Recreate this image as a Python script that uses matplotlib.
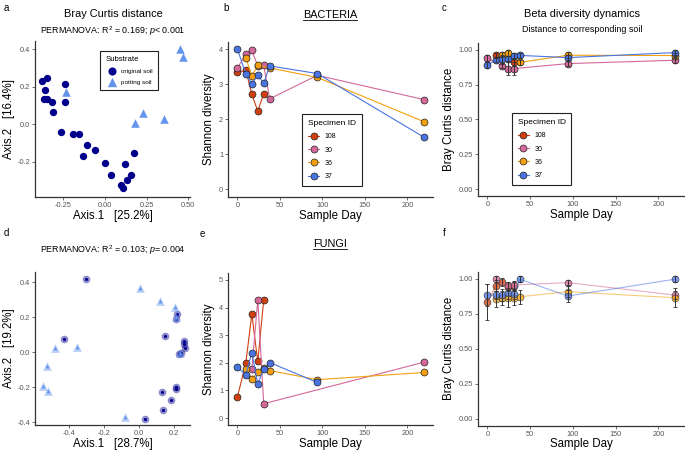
import numpy as np
import matplotlib.pyplot as plt
from matplotlib.lines import Line2D

plt.rcParams['font.family'] = ['Liberation Sans', 'DejaVu Sans']
plt.rcParams['mathtext.fontset'] = 'custom'
plt.rcParams['mathtext.rm'] = 'Liberation Sans'
plt.rcParams['mathtext.it'] = 'Liberation Sans:italic'

# ---- a: bacteria PCoA (Bray Curtis)
bac_soil_x = [-0.379, -0.347, -0.361, -0.367, -0.347, -0.315, -0.310, -0.242, -0.240,
              -0.262, -0.194, -0.159, -0.107, -0.135, -0.063, 0.000, 0.036, 0.119,
              0.175, 0.157, 0.131, 0.095, 0.105]
bac_soil_y = [0.232, 0.244, 0.180, 0.131, 0.131, 0.120, 0.065, 0.212, 0.115,
              -0.044, -0.055, -0.055, -0.112, -0.168, -0.136, -0.207, -0.271, -0.212,
              -0.152, -0.274, -0.299, -0.326, -0.343]
bac_pot_x = [-0.234, 0.450, 0.470, 0.230, 0.181, 0.353]
bac_pot_y = [0.170, 0.402, 0.358, 0.058, 0.004, 0.025]

# ---- d: fungi PCoA
fun_soil_x = [-0.303, -0.430, 0.150, 0.217, 0.213, 0.255, 0.255, 0.259, 0.236, 0.229,
              0.213, 0.210, 0.133, 0.179, 0.135, 0.032]
fun_soil_y = [0.419, 0.078, 0.093, 0.219, 0.194, 0.065, 0.046, 0.023, -0.004, -0.008,
              -0.198, -0.210, -0.225, -0.272, -0.327, -0.383]
fun_pot_x = [0.006, 0.118, 0.204, 0.213, -0.480, -0.356, -0.524, -0.550, -0.520, 0.232, -0.078]
fun_pot_y = [0.370, 0.293, 0.261, 0.204, 0.023, 0.030, -0.078, -0.190, -0.221, -0.002, -0.369]

specimens = ['108', '30', '36', '37']
spec_colors = ['#D03F10', '#D4689A', '#F2A010', '#4A74E2']

# ---- b: bacteria Shannon diversity
bac_shan_days = [[0, 10, 17, 24, 31],
                 [0, 10, 17, 24, 31, 38, 94, 219],
                 [10, 17, 24, 38, 94, 219],
                 [0, 10, 17, 24, 31, 38, 94, 219]]
bac_shan = [[3.34, 3.39, 2.71, 2.23, 2.73],
            [3.45, 3.86, 3.96, 3.52, 3.53, 2.58, 3.25, 2.56],
            [3.75, 3.23, 3.53, 3.46, 3.19, 1.93],
            [4.00, 3.29, 3.00, 3.26, 3.02, 3.52, 3.30, 1.49]]

# ---- c: bacteria distance to soil
bac_bc_days = [[10, 31],
               [0, 17, 24, 31, 94, 219],
               [17, 24, 38, 94, 219],
               [0, 10, 17, 24, 31, 38, 94, 219]]
bac_bc = [[0.959, 0.912],
          [0.940, 0.885, 0.864, 0.864, 0.900, 0.924],
          [0.964, 0.976, 0.909, 0.960, 0.958],
          [0.888, 0.928, 0.930, 0.936, 0.953, 0.959, 0.943, 0.979]]
bac_bc_err = [[0.02, 0.03],
              [0.02, 0.02, 0.045, 0.045, 0.02, 0.02],
              [0.02, 0.02, 0.02, 0.02, 0.02],
              [0.02, 0.02, 0.03, 0.02, 0.02, 0.02, 0.02, 0.02]]

# ---- e: fungi Shannon diversity
fun_shan_days = [[0, 10, 17, 24, 31],
                 [17, 24, 31, 219],
                 [10, 17, 24, 31, 38, 94, 219],
                 [0, 10, 17, 24, 31, 38, 94]]
fun_shan = [[0.75, 2.01, 3.76, 2.05, 4.28],
            [1.77, 4.28, 0.52, 2.02],
            [1.78, 1.42, 1.65, 1.83, 1.72, 1.39, 1.65],
            [1.84, 1.57, 2.37, 1.24, 1.78, 2.01, 1.29]]

# ---- f: fungi distance to soil
fun_bc_days = [[0, 10, 17, 24, 31],
               [10, 24, 31, 94, 219],
               [10, 17, 24, 31, 38, 94, 219],
               [0, 10, 17, 24, 31, 38, 94, 219]]
fun_bc = [[0.833, 0.952, 0.980, 0.945, 0.950],
          [1.000, 0.950, 0.957, 0.974, 0.885],
          [0.857, 0.862, 0.862, 0.862, 0.873, 0.909, 0.866],
          [0.885, 0.885, 0.885, 0.897, 0.890, 0.998, 0.878, 0.998]]
fun_bc_err = [[0.13, 0.04, 0.03, 0.03, 0.03],
              [0.02, 0.03, 0.03, 0.02, 0.03],
              [0.06, 0.05, 0.06, 0.05, 0.05, 0.04, 0.07],
              [0.08, 0.03, 0.04, 0.04, 0.03, 0.02, 0.04, 0.02]]

W, H = 685, 450
fig = plt.figure(figsize=(W / 100, H / 100), dpi=100)


def px_axes(l, t, r, b):
    return fig.add_axes([l / W, 1 - b / H, (r - l) / W, (b - t) / H])


def style(ax):
    for s in ['top', 'right']:
        ax.spines[s].set_visible(False)
    for s in ['left', 'bottom']:
        ax.spines[s].set_linewidth(0.9)
        ax.spines[s].set_color('#333333')
    ax.tick_params(labelsize=5.3, colors='#555555', length=2, width=0.6, pad=1.5)


def ftext(x, y, s, size, **kw):
    return fig.text(x / W, 1 - y / H, s, fontsize=size, ha='center', va='center', **kw)


def spec_legend(ax, x, y):
    handles = [Line2D([], [], color=c, lw=0.8, marker='o', ms=5, mfc=c, mec='#222222', mew=0.5)
               for c in spec_colors]
    leg = ax.legend(handles, specimens, title='Specimen ID', loc='upper left',
                    bbox_to_anchor=(x, y), fontsize=5, title_fontsize=6,
                    fancybox=False, edgecolor='#222222', framealpha=1,
                    handlelength=1.6, labelspacing=0.9, borderpad=0.8, handletextpad=0.8)
    leg.get_frame().set_linewidth(0.8)
    leg._legend_box.align = 'left'


def time_axes(ax, ylim, yticks, fmt):
    style(ax)
    ax.set_xlim(-11, 230)
    ax.set_xticks([0, 50, 100, 150, 200])
    ax.set_ylim(*ylim)
    ax.set_yticks(yticks)
    ax.set_yticklabels([fmt % v for v in yticks])
    ax.set_xlabel('Sample Day', fontsize=8.3, labelpad=0.5)


# ---------- a
ax = px_axes(35, 41.5, 190, 197)
style(ax)
ax.scatter(bac_soil_x, bac_soil_y, s=28, marker='o', color='#00008B', lw=0, label='original soil')
ax.scatter(bac_pot_x, bac_pot_y, s=38, marker='^', color='#6495ED', lw=0, label='potting soil')
ax.set_xlim(-0.42, 0.51)
ax.set_ylim(-0.389, 0.44)
ax.set_xticks([-0.25, 0, 0.25, 0.5])
ax.set_xticklabels(['-0.25', '0.00', '0.25', '0.50'])
ax.set_yticks([-0.2, 0, 0.2, 0.4])
ax.set_yticklabels(['-0.2', '0.0', '0.2', '0.4'])
ax.set_xlabel('Axis.1   [25.2%]', fontsize=8.3, labelpad=0.5)
ax.set_ylabel('Axis.2   [16.4%]', fontsize=8.3, labelpad=2)
leg = ax.legend(title='Substrate', loc='upper left', bbox_to_anchor=(0.40, 0.958),
                fontsize=4.6, title_fontsize=5.6, fancybox=False, edgecolor='#222222',
                framealpha=1, handletextpad=0.5, borderpad=0.8, labelspacing=0.8,
                markerscale=1.1)
leg.get_frame().set_linewidth(0.8)
leg._legend_box.align = 'left'

# ---------- b
ax = px_axes(228, 42, 433, 197)
time_axes(ax, (-0.22, 4.2), [0, 1, 2, 3, 4], '%d')
for d, v, c in zip(bac_shan_days, bac_shan, spec_colors):
    ax.plot(d, v, '-o', color=c, lw=0.8, ms=5, mfc=c, mec='#222222', mew=0.5)
ax.set_ylabel('Shannon diversity', fontsize=8.3, labelpad=3)
spec_legend(ax, 0.346, 0.555)

# ---------- c
ax = px_axes(478, 42.7, 684, 196)
time_axes(ax, (-0.05, 1.05), [0, 0.25, 0.5, 0.75, 1.0], '%.2f')
for d, v, e, c in zip(bac_bc_days, bac_bc, bac_bc_err, spec_colors):
    ax.plot(d, v, '-o', color=c, lw=0.8, ms=5, mfc=c, mec='#222222', mew=0.5)
    ax.errorbar(d, v, yerr=e, fmt='none', ecolor='#333333', elinewidth=0.7, capsize=1.3, capthick=0.6, zorder=3)
ax.set_ylabel('Bray Curtis distance', fontsize=8.3, labelpad=3)
spec_legend(ax, 0.15, 0.561)

# ---------- d
ax = px_axes(35, 272, 190, 425)
style(ax)
ax.scatter(fun_soil_x, fun_soil_y, s=30, marker='o', color='#00008B', alpha=0.45, lw=0)
ax.scatter(fun_soil_x, fun_soil_y, s=5, marker='o', color='#00008B', lw=0)
ax.scatter(fun_pot_x, fun_pot_y, s=40, marker='^', color='#6495ED', alpha=0.45, lw=0)
ax.scatter(fun_pot_x, fun_pot_y, s=8, marker='^', color='#6495ED', lw=0)
ax.set_xlim(-0.594, 0.29)
ax.set_ylim(-0.415, 0.46)
ax.set_xticks([-0.4, -0.2, 0, 0.2])
ax.set_xticklabels(['-0.4', '-0.2', '0.0', '0.2'])
ax.set_yticks([-0.4, -0.2, 0, 0.2, 0.4])
ax.set_yticklabels(['-0.4', '-0.2', '0.0', '0.2', '0.4'])
ax.set_xlabel('Axis.1   [28.7%]', fontsize=8.3, labelpad=0.5)
ax.set_ylabel('Axis.2   [19.2%]', fontsize=8.3, labelpad=2)

# ---------- e
ax = px_axes(228, 273, 433, 425)
time_axes(ax, (-0.25, 5.25), [0, 1, 2, 3, 4, 5], '%d')
for d, v, c in zip(fun_shan_days, fun_shan, spec_colors):
    ax.plot(d, v, '-o', color=c, lw=0.8, ms=5, mfc=c, mec='#222222', mew=0.5)
ax.set_ylabel('Shannon diversity', fontsize=8.3, labelpad=3)

# ---------- f
ax = px_axes(478, 272, 684, 425.7)
time_axes(ax, (-0.05, 1.05), [0, 0.25, 0.5, 0.75, 1.0], '%.2f')
for d, v, e, c in zip(fun_bc_days, fun_bc, fun_bc_err, spec_colors):
    ax.plot(d, v, '-', color=c, lw=0.8, alpha=0.55)
    ax.plot(d, v, 'o', ms=5, mfc=c, mec='#222222', mew=0.5, alpha=0.75)
    ax.errorbar(d, v, yerr=e, fmt='none', ecolor='#333333', elinewidth=0.7, capsize=1.3, capthick=0.6, zorder=3)
ax.set_ylabel('Bray Curtis distance', fontsize=8.3, labelpad=3)

# ---------- titles and panel letters
ftext(113, 14, 'Bray Curtis distance', 7.9)
ftext(113, 31, 'PERMANOVA: R$^2$ = 0.169; $p$< 0.001', 6.4)
t_bac = ftext(330, 15, 'BACTERIA', 7.8)
ftext(582, 14, 'Beta diversity dynamics', 7.9)
ftext(582, 29, 'Distance to corresponding soil', 6.4)
ftext(113, 250, 'PERMANOVA: R$^2$ = 0.103; $p$= 0.004', 6.4)
t_fun = ftext(330, 244, 'FUNGI', 7.8)

for lab, x, y in [('a', 6, 8), ('b', 226, 8), ('c', 444, 8),
                  ('d', 6, 233), ('e', 202, 234), ('f', 444, 233)]:
    ftext(x, y, lab, 7)

# underline the kingdom titles
fig.canvas.draw()
r = fig.canvas.get_renderer()
for t in [t_bac, t_fun]:
    bb = t.get_window_extent(r).transformed(fig.transFigure.inverted())
    fig.add_artist(Line2D([bb.x0, bb.x1], [bb.y0 + 0.001, bb.y0 + 0.001], color='black',
                          lw=0.6, transform=fig.transFigure))

fig.savefig('out.png', dpi=100)
